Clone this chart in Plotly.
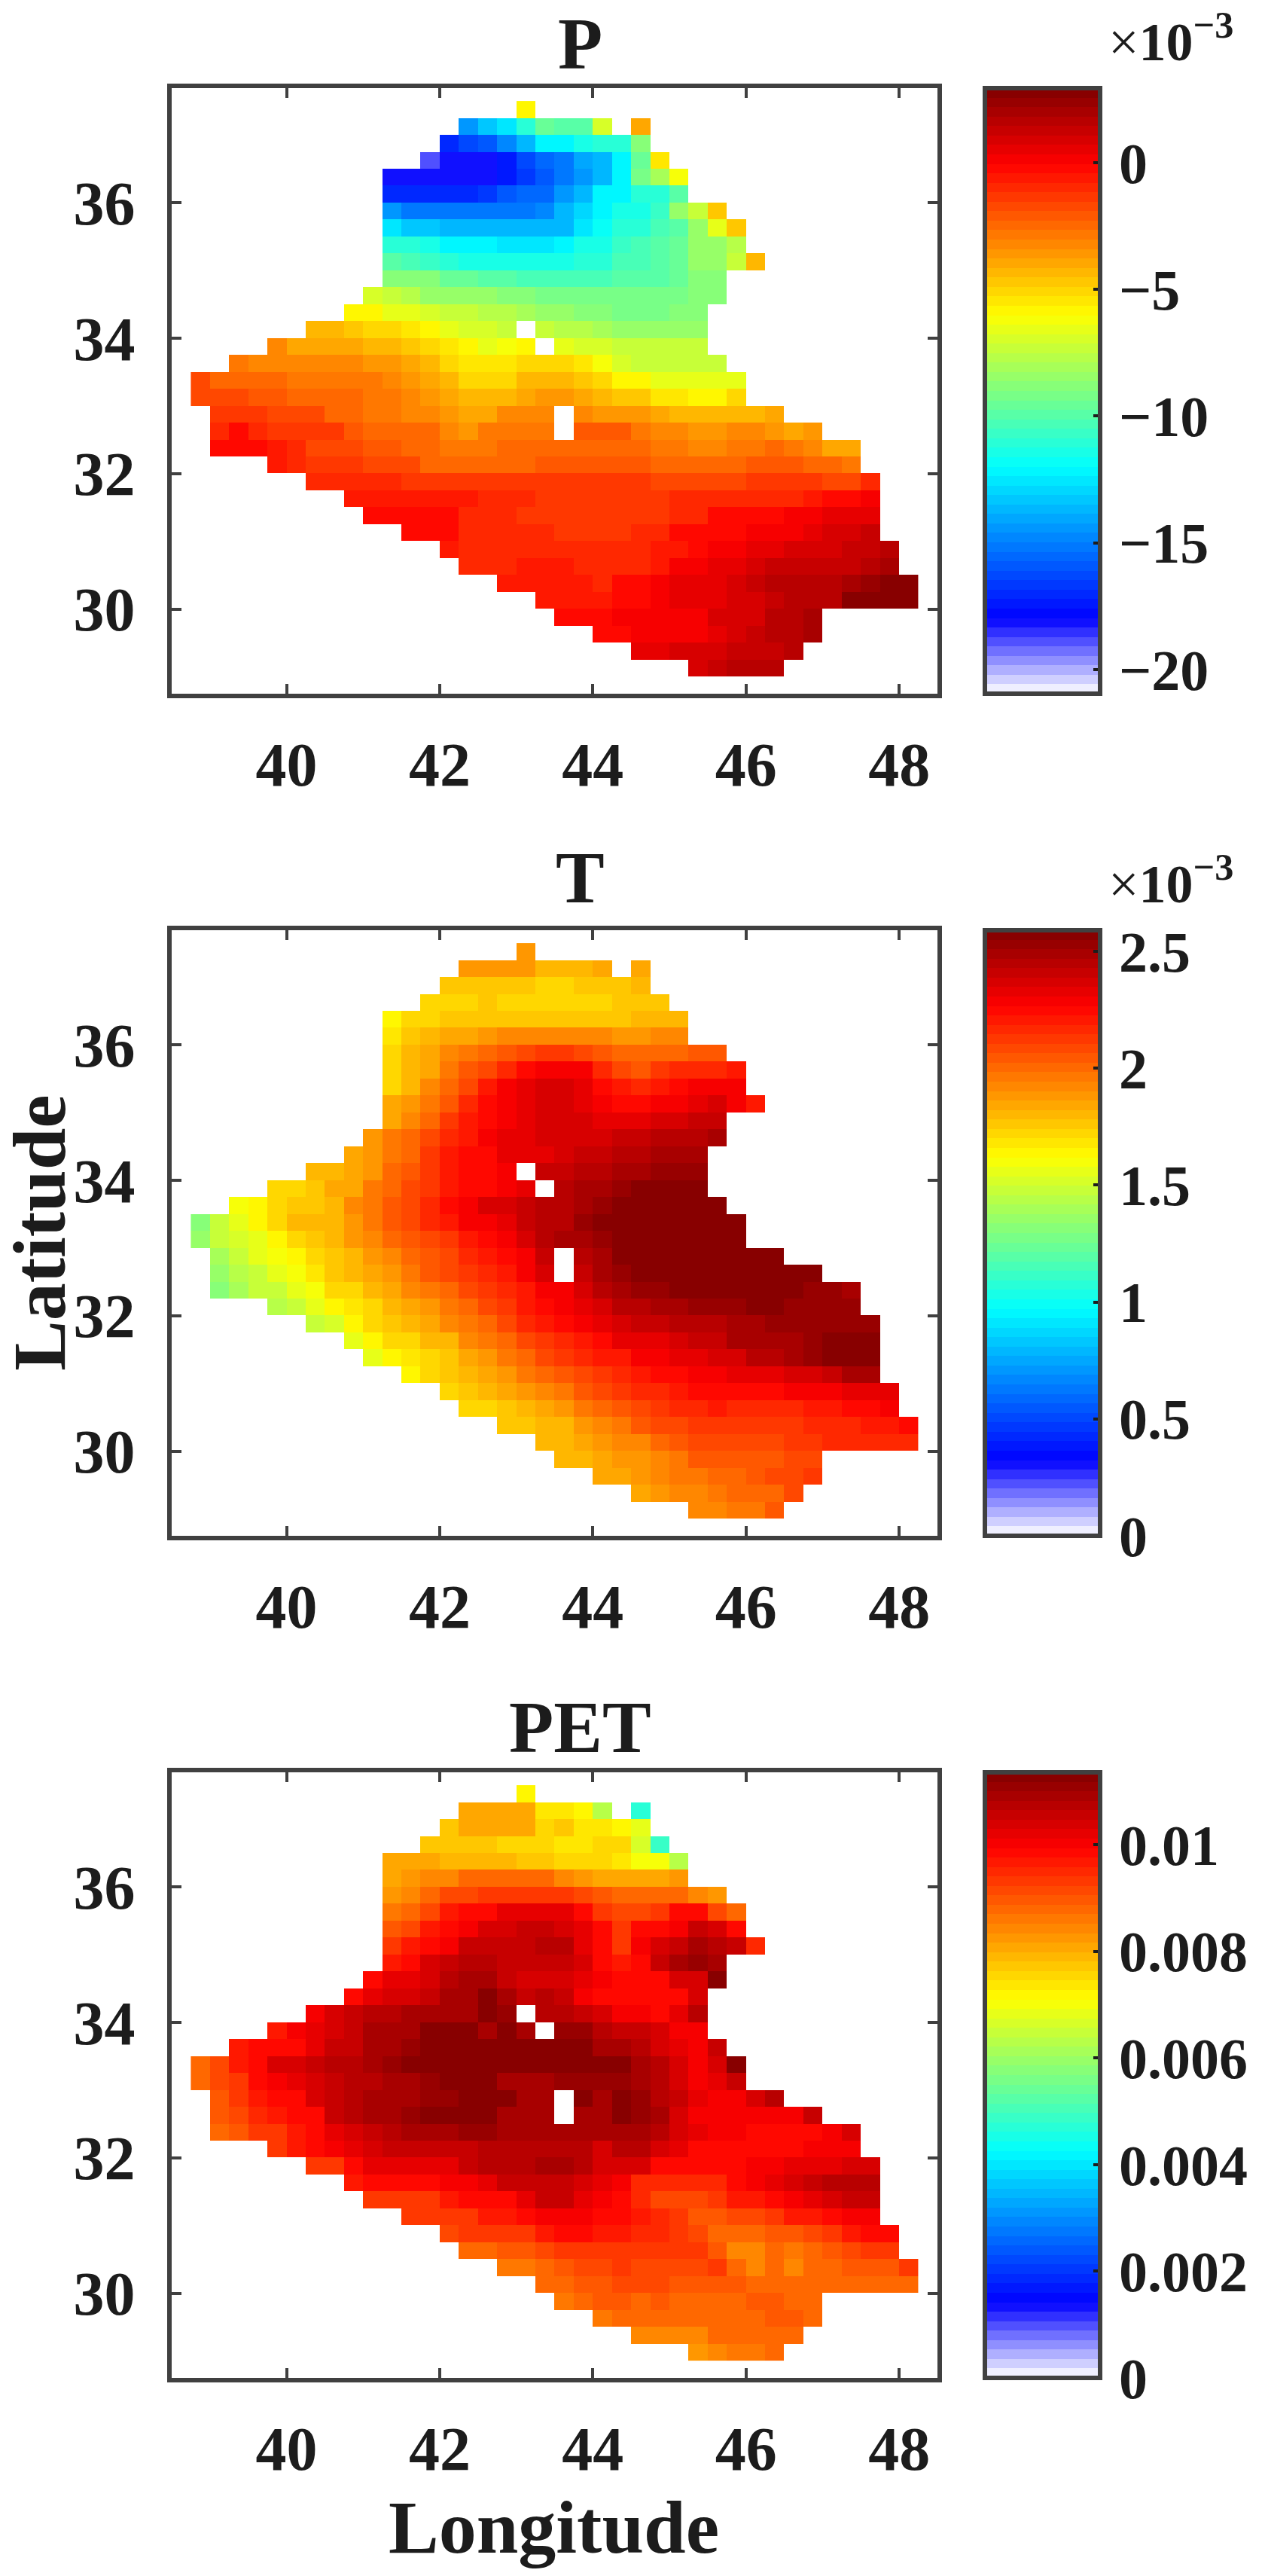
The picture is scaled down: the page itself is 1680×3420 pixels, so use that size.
import numpy as np
import plotly.graph_objects as go

n = None

LON = np.arange(38.875, 48.3, 0.25)
LAT = np.arange(37.375, 29.0, -0.25)

# all values in units of 1e-3, rows run north to south, columns west to east
P_VALUES = [
    [n]*17 + [-6.0],
    [n]*14 + [-14.4, -13.2, -12.5, -11, -9.5, -10, -10, -6.9, n, -3.9],
    [n]*13 + [-17.2, -16.4, -16, -14.7, -13.5, -12.3, -12, -11.6, -11.2, -11, -9],
    [n]*12 + [-18.8, -18.2, -18, -18, -17.5, -16.4, -15.7, -15, -14, -13.5, -12.3, -9.5, -5.4],
    [n]*10 + [-18, -18, -18, -18.3, -18, -18, -17.5, -16.6, -16, -15, -14.3, -13.5, -12.3, -9.3, -8, -6.1],
    [n]*10 + [-16.9, -17, -17, -17, -17, -16.7, -16, -15.7, -15.5, -14.5, -13.7, -12.3, -12, -11, -10.9, -10],
    [n]*10 + [-14.5, -15.2, -15.2, -15.2, -15.2, -15.2, -15.1, -15.1, -14.7, -13.8, -13, -12.1, -11.4, -11.4, -10.6, -8.5, -7.4, -4.8],
    [n]*10 + [-12.5, -13.2, -13.2, -13.7, -13.7, -13.7, -13.7, -13.7, -13.7, -13.6, -12.5, -11.7, -11.2, -11, -10.2, -9.8, -8.3, -6.7, -4.7],
    [n]*10 + [-11, -11.2, -11.6, -12, -12, -12, -12.5, -12.5, -12.5, -12, -11.6, -11.4, -10.7, -10.2, -9.8, -9.5, -8.6, -8.4, -7.6],
    [n]*10 + [-10, -10.4, -10.7, -11, -11.4, -11.4, -11.4, -11.4, -11.4, -11.6, -11.2, -11, -10.4, -10.2, -10, -9.5, -8.6, -8.4, -7.3, -4.4],
    [n]*10 + [-8.7, -8.7, -9, -9.5, -9.5, -10, -10, -10.2, -10.2, -10.2, -10.2, -10.2, -10, -10, -10, -9.5, -8.8, -8.8],
    [n]*9 + [-7.1, -7.5, -7.8, -8.3, -8.3, -8.3, -8.3, -8.7, -8.8, -9.2, -9.2, -9.2, -9.2, -9.2, -9.2, -9.2, -9.2, -8.7, -8.7],
    [n]*8 + [-5.7, -6, -6.4, -6.5, -6.9, -7.3, -7.3, -7.6, -7.8, -8, -8.3, -8.3, -8.7, -8.7, -9.2, -9.2, -9.2, -9, -9],
    [n]*6 + [-4.4, -4.4, -4.7, -5, -5, -5.4, -5.9, -6.5, -6.9, -6.9, -7.3, n, -7.4, -7.8, -7.8, -8.2, -8.4, -8.4, -8.4, -8.4, -8.4],
    [n]*4 + [-3.4, -3.9, -3.9, -3.9, -4.1, -4.5, -4.5, -4.8, -5.1, -5.6, -6, -6.4, -6.3, -5.9, n, -6.5, -6.8, -7.1, -7.5, -7.5, -7.5, -7.5, -7.5],
    [n]*2 + [-2.9, -3.1, -3.1, -3.1, -3.1, -3.4, -3.4, -3.7, -3.7, -3.9, -4.4, -5, -5.5, -5.5, -5.5, -5, -5, -5, -5.5, -6.3, -6.8, -7.2, -7.2, -7.2, -7.2, -7.2],
    [-1.9, -2.6, -2.6, -2.6, -2.6, -2.7, -2.7, -2.7, -2.9, -2.9, -3.4, -3.6, -4.1, -4.5, -4.9, -4.9, -4.9, -4.5, -4.5, -4.5, -4.8, -5.2, -5.7, -6, -6.4, -6.4, -6.4, -6.4, -6.4],
    [-1.7, -1.7, -1.7, -2, -2, -2.3, -2.3, -2.5, -2.5, -2.9, -2.9, -3.3, -3.7, -4.1, -4.4, -4.4, -4.4, -4, -3.5, -3.5, -3.8, -4.3, -4.7, -4.7, -5.3, -5.3, -5.8, -5.8, -5.1],
    [n] + [-1.4, -1.4, -1.4, -1.7, -1.7, -1.9, -2.4, -2.4, -2.7, -2.7, -3.2, -3.2, -3.6, -4, -4, -3.4, -3.3, -3.3, n, -3.2, -3.5, -3.5, -3.5, -4.1, -4.5, -4.5, -4.5, -4.5, -4.5, -4],
    [n] + [-0.9, -0.3, -0.8, -1.2, -1.2, -1.5, -1.5, -2, -2.4, -2.4, -2.6, -2.6, -3.1, -3.5, -3, -3, -3, -2.7, n, -2.2, -2.2, -2.2, -3, -3.2, -3.2, -3.7, -3.7, -3.4, -3.4, -3.6, -3.8, -3.7],
    [n] + [-0.2, -0.2, -0.2, -0.6, -0.9, -1.6, -1.6, -1.6, -2, -2, -2.5, -2.5, -2.9, -2.9, -2.9, -2.6, -2.6, -2.3, -2.3, -2.3, -2.3, -2.3, -2.3, -2.7, -2.7, -3.1, -3.1, -2.7, -2.7, -2.4, -2.8, -3.2, -3.8, -4],
    [n]*4 + [-0.6, -0.8, -1.4, -1.4, -1.4, -1.9, -1.9, -1.9, -2.4, -2.4, -2.4, -2.4, -2.4, -2.4, -2, -2, -2, -2, -2, -2, -2.5, -2.5, -2.5, -2.5, -2.5, -2.2, -2.2, -2.2, -2.5, -2.5, -2.9],
    [n]*6 + [-1, -1, -1, -1, -1, -1.4, -1.4, -1.4, -1.4, -1.4, -1.4, -1.4, -1.4, -1.4, -1.4, -1.4, -1.4, -1.4, -1.8, -1.8, -1.8, -1.6, -1.6, -1.3, -1.3, -1.3, -1.3, -1.6, -1.6, -0.9],
    [n]*8 + [-0.7, -0.7, -0.7, -0.7, -0.7, -0.7, -0.7, -1.1, -1.1, -1.1, -1.5, -1.5, -1.5, -1.5, -1.5, -1.5, -1.5, -1.1, -1.1, -1.1, -0.8, -0.8, -0.8, -0.8, -0.5, -0.1, -0.1, 0.3],
    [n]*9 + [-0.4, -0.4, -0.4, -0.4, -0.4, -0.8, -0.8, -0.8, -1.2, -1.2, -1.2, -1.2, -1.2, -1.2, -1.2, -1.2, -0.8, -0.8, -0.4, -0.4, -0.4, -0.4, 0, 0.3, 0.7, 0.7, 0.7],
    [n]*11 + [-0.4, -0.4, -0.4, -0.9, -0.9, -0.9, -0.9, -0.9, -1.2, -1.2, -1.2, -1.2, -0.9, -0.9, -0.4, -0.4, -0.1, -0.1, 0.2, 0.2, 0.2, 0.5, 0.9, 0.9, 1.2],
    [n]*13 + [-0.5, -0.9, -0.9, -0.9, -0.9, -1, -1, -1, -1, -1, -1, -0.6, -0.6, -0.2, 0.2, 0.2, 0.5, 0.5, 0.8, 0.8, 0.8, 1.2, 1.2, 1.6],
    [n]*14 + [-0.9, -0.9, -0.9, -0.6, -0.6, -0.6, -1, -1, -1, -1, -0.6, 0, 0.3, 0.6, 0.6, 1, 1.3, 1.3, 1.3, 1.3, 1.3, 1.6, 2],
    [n]*16 + [-0.6, -0.6, -0.6, -0.6, -0.6, -0.9, -0.3, -0.1, 0.3, 0.7, 0.7, 0.7, 1, 1.4, 1.6, 1.6, 1.6, 1.6, 2, 2.3, 2.7, 2.7],
    [n]*18 + [-0.5, -0.5, -0.5, -0.5, -0.3, -0.1, 0.1, 0.5, 0.7, 0.7, 1, 1, 1.4, 1.7, 1.7, 1.7, 2.6, 2.6, 2.8, 2.8],
    [n]*19 + [-0.4, -0.4, -0.4, 0, 0, 0.3, 0.3, 0.3, 0.8, 0.8, 1, 1.5, 1.5, 1.9],
    [n]*21 + [-0.1, -0.1, 0.3, 0.3, 0.3, 0.3, 0.7, 0.8, 1.1, 1.5, 1.8, 2],
    [n]*23 + [0.5, 0.5, 0.9, 0.9, 0.9, 1.2, 1.2, 1.4, 1.7],
    [n]*26 + [1, 1.2, 1.5, 1.5, 1.7],
]

T_VALUES = [
    [n]*17 + [1.89],
    [n]*14 + [1.88, 1.88, 1.88, 1.88, 1.82, 1.82, 1.82, 1.85, n, 1.85],
    [n]*13 + [1.75, 1.77, 1.77, 1.77, 1.77, 1.72, 1.72, 1.76, 1.76, 1.76, 1.81],
    [n]*12 + [1.72, 1.72, 1.72, 1.75, 1.71, 1.71, 1.71, 1.71, 1.71, 1.71, 1.75, 1.75, 1.75],
    [n]*10 + [1.65, 1.71, 1.71, 1.75, 1.75, 1.75, 1.75, 1.75, 1.75, 1.75, 1.75, 1.75, 1.75, 1.81, 1.81, 1.81],
    [n]*10 + [1.67, 1.75, 1.79, 1.83, 1.83, 1.87, 1.92, 1.92, 1.92, 1.92, 1.92, 1.92, 1.89, 1.89, 1.93, 1.93],
    [n]*10 + [1.71, 1.79, 1.84, 1.92, 1.97, 2.01, 2.05, 2.08, 2.12, 2.12, 2.08, 2.04, 2, 2, 2, 2, 2.04, 2.04],
    [n]*10 + [1.72, 1.81, 1.86, 1.98, 2.05, 2.09, 2.18, 2.23, 2.27, 2.27, 2.28, 2.18, 2.1, 2.05, 2.12, 2.16, 2.18, 2.18, 2.2],
    [n]*10 + [1.72, 1.82, 1.91, 2, 2.1, 2.19, 2.28, 2.32, 2.36, 2.36, 2.32, 2.26, 2.2, 2.15, 2.21, 2.26, 2.27, 2.27, 2.29],
    [n]*10 + [1.84, 1.89, 1.97, 2.05, 2.15, 2.25, 2.29, 2.32, 2.35, 2.35, 2.32, 2.28, 2.24, 2.24, 2.27, 2.3, 2.32, 2.35, 2.3, 2.22],
    [n]*10 + [1.86, 1.94, 2.02, 2.12, 2.2, 2.24, 2.28, 2.31, 2.35, 2.35, 2.35, 2.31, 2.31, 2.31, 2.36, 2.36, 2.39, 2.39],
    [n]*9 + [1.9, 1.95, 2.02, 2.1, 2.17, 2.22, 2.27, 2.31, 2.31, 2.35, 2.35, 2.35, 2.35, 2.4, 2.4, 2.44, 2.44, 2.45, 2.5],
    [n]*8 + [1.84, 1.9, 1.97, 2.02, 2.12, 2.2, 2.25, 2.25, 2.31, 2.31, 2.31, 2.35, 2.4, 2.4, 2.43, 2.43, 2.5, 2.5, 2.5],
    [n]*6 + [1.79, 1.79, 1.85, 1.9, 2, 2.05, 2.13, 2.2, 2.25, 2.25, 2.3, n, 2.4, 2.4, 2.44, 2.44, 2.47, 2.47, 2.53, 2.53, 2.53],
    [n]*4 + [1.7, 1.73, 1.77, 1.85, 1.85, 1.95, 2, 2.08, 2.13, 2.2, 2.26, 2.26, 2.29, 2.32, n, 2.44, 2.49, 2.49, 2.53, 2.57, 2.57, 2.57, 2.57],
    [n]*2 + [1.58, 1.62, 1.71, 1.77, 1.77, 1.82, 1.91, 1.97, 2.03, 2.09, 2.16, 2.24, 2.28, 2.38, 2.38, 2.39, 2.45, 2.45, 2.5, 2.52, 2.56, 2.59, 2.59, 2.57, 2.57, 2.59],
    [1.33, 1.48, 1.57, 1.62, 1.7, 1.79, 1.79, 1.82, 1.89, 1.98, 2.04, 2.1, 2.16, 2.22, 2.28, 2.27, 2.32, 2.4, 2.45, 2.45, 2.51, 2.57, 2.57, 2.59, 2.59, 2.59, 2.59, 2.59, 2.59],
    [1.35, 1.46, 1.52, 1.57, 1.64, 1.71, 1.77, 1.82, 1.87, 1.94, 1.99, 2.05, 2.09, 2.14, 2.21, 2.26, 2.28, 2.35, 2.44, 2.48, 2.48, 2.53, 2.57, 2.59, 2.59, 2.59, 2.59, 2.59, 2.59],
    [n] + [1.41, 1.47, 1.54, 1.6, 1.63, 1.71, 1.77, 1.82, 1.89, 1.94, 2, 2.05, 2.1, 2.16, 2.2, 2.25, 2.28, 2.4, n, 2.44, 2.5, 2.56, 2.55, 2.55, 2.59, 2.59, 2.59, 2.59, 2.59, 2.59],
    [n] + [1.35, 1.43, 1.49, 1.56, 1.58, 1.69, 1.76, 1.79, 1.85, 1.9, 1.98, 2.03, 2.09, 2.14, 2.17, 2.22, 2.28, 2.35, n, 2.42, 2.5, 2.53, 2.55, 2.55, 2.59, 2.59, 2.59, 2.59, 2.59, 2.59, 2.58, 2.58],
    [n] + [1.33, 1.41, 1.46, 1.49, 1.55, 1.6, 1.7, 1.74, 1.81, 1.86, 1.91, 1.97, 2.02, 2.07, 2.12, 2.18, 2.22, 2.27, 2.29, 2.35, 2.44, 2.48, 2.52, 2.52, 2.56, 2.56, 2.56, 2.56, 2.56, 2.56, 2.56, 2.52, 2.52, 2.5],
    [n]*4 + [1.43, 1.48, 1.57, 1.63, 1.66, 1.73, 1.81, 1.85, 1.9, 1.95, 2.02, 2.09, 2.14, 2.2, 2.24, 2.28, 2.32, 2.37, 2.44, 2.44, 2.48, 2.48, 2.52, 2.52, 2.52, 2.56, 2.56, 2.52, 2.52, 2.52, 2.52],
    [n]*6 + [1.47, 1.52, 1.63, 1.71, 1.75, 1.82, 1.85, 1.93, 1.97, 2.02, 2.09, 2.16, 2.2, 2.25, 2.28, 2.33, 2.37, 2.4, 2.4, 2.44, 2.44, 2.44, 2.48, 2.48, 2.53, 2.53, 2.53, 2.53, 2.53, 2.53],
    [n]*8 + [1.55, 1.63, 1.7, 1.74, 1.79, 1.82, 1.93, 1.97, 2, 2.08, 2.14, 2.17, 2.2, 2.24, 2.31, 2.33, 2.33, 2.37, 2.4, 2.4, 2.47, 2.47, 2.5, 2.5, 2.53, 2.58, 2.58, 2.56],
    [n]*9 + [1.57, 1.63, 1.66, 1.72, 1.77, 1.84, 1.9, 1.95, 2.02, 2.08, 2.13, 2.17, 2.2, 2.22, 2.28, 2.28, 2.32, 2.32, 2.37, 2.37, 2.43, 2.43, 2.47, 2.51, 2.55, 2.55, 2.55],
    [n]*11 + [1.63, 1.71, 1.75, 1.8, 1.84, 1.87, 1.95, 2, 2.04, 2.09, 2.14, 2.17, 2.2, 2.24, 2.24, 2.27, 2.27, 2.32, 2.32, 2.32, 2.36, 2.36, 2.41, 2.47, 2.47],
    [n]*13 + [1.71, 1.75, 1.79, 1.84, 1.89, 1.93, 1.95, 2.04, 2.09, 2.13, 2.17, 2.17, 2.21, 2.25, 2.25, 2.25, 2.25, 2.25, 2.27, 2.27, 2.27, 2.32, 2.32, 2.32],
    [n]*14 + [1.7, 1.7, 1.77, 1.82, 1.86, 1.9, 1.95, 1.99, 2.04, 2.09, 2.14, 2.18, 2.18, 2.22, 2.18, 2.18, 2.18, 2.18, 2.21, 2.21, 2.26, 2.26, 2.28],
    [n]*16 + [1.75, 1.75, 1.8, 1.82, 1.9, 1.94, 1.98, 2.03, 2.1, 2.1, 2.13, 2.13, 2.13, 2.13, 2.13, 2.13, 2.17, 2.17, 2.17, 2.2, 2.2, 2.24],
    [n]*18 + [1.79, 1.79, 1.85, 1.89, 1.94, 1.94, 1.99, 2.03, 2.07, 2.07, 2.07, 2.09, 2.09, 2.13, 2.13, 2.17, 2.17, 2.17, 2.17, 2.17],
    [n]*19 + [1.81, 1.81, 1.85, 1.9, 1.9, 1.94, 1.98, 2.03, 2.03, 2.03, 2.05, 2.05, 2.1, 2.1],
    [n]*21 + [1.84, 1.84, 1.87, 1.92, 1.95, 1.95, 1.99, 1.99, 2.03, 2.07, 2.07, 2.13],
    [n]*23 + [1.84, 1.87, 1.94, 1.94, 1.95, 1.99, 1.99, 2.02, 2.1],
    [n]*26 + [1.94, 1.94, 1.98, 1.98, 2.03],
]

PET_VALUES = [
    [n]*17 + [7.1],
    [n]*14 + [8.1, 8.1, 8.1, 8.1, 7.3, 7.3, 7.2, 6.3, n, 4.7],
    [n]*13 + [7.8, 8, 8, 8, 8, 7.6, 7.8, 7.3, 7.3, 7.1, 6.8],
    [n]*12 + [7.8, 7.8, 7.8, 7.8, 7.6, 7.5, 7.5, 7.3, 7.3, 7.5, 7.5, 6.7, 4.8],
    [n]*10 + [8, 8.1, 8.1, 7.9, 7.9, 7.9, 7.9, 7.8, 7.8, 7.6, 7.6, 7.6, 7.4, 7, 7, 6.3],
    [n]*10 + [8.1, 8.3, 8.5, 8.5, 8.8, 8.8, 8.8, 8.8, 8.8, 8.5, 8.3, 8.1, 8.1, 8.1, 8.1, 8.3],
    [n]*10 + [8.2, 8.5, 8.8, 9.1, 9.2, 9.4, 9.4, 9.4, 9.4, 9.4, 9.2, 9, 8.7, 8.7, 8.7, 8.7, 8.5, 8.2],
    [n]*10 + [8.6, 8.8, 9.2, 9.6, 9.8, 9.9, 10.2, 10.2, 10.2, 10.2, 9.8, 9.4, 9.2, 9.2, 9.4, 9.8, 9.9, 9.2, 8.7],
    [n]*10 + [9, 9.2, 9.6, 9.9, 10.1, 10.4, 10.3, 10.5, 10.5, 10.4, 10.2, 9.9, 9.4, 9.8, 9.8, 10.1, 10.6, 10.4, 9.9],
    [n]*10 + [9.4, 9.7, 9.9, 10.1, 10.5, 10.5, 10.5, 10.5, 10.7, 10.7, 10.2, 9.8, 9.3, 10, 10.4, 10.5, 10.9, 10.7, 10.6, 9.5],
    [n]*10 + [9.7, 9.9, 10.3, 10.5, 10.7, 10.7, 10.5, 10.5, 10.5, 10.5, 10.3, 9.9, 9.6, 9.8, 10.5, 10.9, 11.1, 11],
    [n]*9 + [9.9, 10.2, 10.2, 10.4, 10.7, 11, 11, 10.6, 10.4, 10.4, 10.4, 10.2, 10, 9.8, 9.9, 9.9, 10.4, 10.4, 11.36],
    [n]*8 + [9.9, 10.2, 10.4, 10.4, 10.6, 10.9, 10.9, 11.2, 10.9, 10.5, 10.7, 10.5, 10.1, 9.9, 9.9, 9.9, 9.9, 9.9, 10.3],
    [n]*6 + [10.1, 10.3, 10.6, 10.8, 10.8, 11, 11, 11, 11, 11.2, 11.1, n, 10.7, 10.7, 10.5, 10.3, 10.1, 10.1, 9.9, 10.2, 10.7],
    [n]*4 + [9.6, 10, 10.2, 10.4, 10.6, 10.9, 11, 10.9, 11.2, 11.2, 11.2, 11, 11.2, 11, n, 11.1, 11.1, 10.7, 10.5, 10.5, 10.4, 10, 10],
    [n]*2 + [9.6, 9.8, 9.9, 9.9, 10.2, 10.5, 10.6, 11, 11, 11.1, 11.36, 11.36, 11.36, 11.2, 11.2, 11.2, 11.2, 11.2, 11.2, 11, 11, 10.8, 10.4, 10.2, 10, 10.6],
    [8.7, 9.2, 9.6, 9.8, 10.3, 10.3, 10.5, 10.7, 10.7, 11, 11.1, 11.2, 11.36, 11.36, 11.36, 11.2, 11.2, 11.2, 11.2, 11.3, 11.2, 11.2, 11.2, 11, 10.8, 10.4, 10, 10.4, 11.2],
    [8.7, 9.1, 9.4, 9.8, 10, 10.2, 10.4, 10.6, 10.8, 10.8, 11, 11, 11.1, 11.3, 11.3, 11.2, 11, 11, 11, 11.1, 11.1, 11.1, 11.1, 11, 10.8, 10.4, 10, 10.2, 10.6],
    [n] + [9, 9.3, 9.7, 9.8, 9.9, 10.3, 10.5, 10.8, 11, 11, 11, 11.1, 11.1, 11.3, 11.2, 11.3, 11, 11, n, 11.2, 11, 11.3, 11.1, 10.8, 10.5, 10.2, 10, 10, 10.3, 10.7],
    [n] + [9, 9.2, 9.5, 9.7, 9.8, 9.9, 10.5, 10.7, 10.9, 11, 11.1, 11.2, 11.3, 11.3, 11.3, 11, 11, 11, n, 11, 11, 11.3, 11.1, 10.9, 10.4, 10.1, 10.1, 10.1, 10.1, 10.1, 10.1, 10.5],
    [n] + [8.8, 8.9, 9.3, 9.3, 9.6, 9.9, 10.2, 10.4, 10.6, 10.7, 10.9, 10.9, 10.9, 11.1, 11.1, 10.9, 10.9, 10.9, 10.9, 10.9, 10.9, 10.9, 10.9, 10.7, 10.4, 10.2, 10, 10, 9.9, 9.9, 9.8, 9.8, 10.1, 10.3],
    [n]*4 + [9.4, 9.6, 9.8, 10, 10.2, 10.4, 10.5, 10.5, 10.5, 10.5, 10.5, 10.8, 10.8, 10.8, 10.8, 10.8, 10.8, 10.4, 10.7, 10.7, 10.4, 10.2, 9.9, 9.9, 9.9, 9.9, 9.9, 9.9, 10, 10, 10.1],
    [n]*6 + [9.4, 9.4, 9.9, 10.2, 10.2, 10.2, 10.2, 10.2, 10.5, 10.7, 10.7, 10.7, 10.9, 10.9, 10.7, 10.3, 10.3, 10.3, 9.9, 9.9, 9.9, 9.9, 9.9, 10, 10, 10.2, 10.2, 10.2, 10.4, 10.3],
    [n]*8 + [9.6, 9.8, 9.8, 9.8, 9.8, 10, 10, 10.2, 10.5, 10.6, 10.6, 10.6, 10.4, 10.2, 10, 9.5, 9.5, 9.5, 9.5, 9.5, 9.8, 10, 10.2, 10.3, 10.5, 10.7, 10.8, 10.7],
    [n]*9 + [9.4, 9.4, 9.4, 9.4, 9.6, 9.8, 9.9, 9.9, 10.2, 10.5, 10.5, 10.2, 10, 9.8, 9.5, 9.2, 9.2, 9.2, 9.4, 9.6, 9.6, 9.8, 10, 10.2, 10.4, 10.6, 10.6],
    [n]*11 + [9.3, 9.3, 9.3, 9.4, 9.6, 9.6, 9.8, 10, 10, 10, 9.9, 9.9, 9.6, 9.5, 9.3, 9, 9, 9.2, 9.2, 9.3, 9.6, 9.7, 9.9, 10.1, 10.1],
    [n]*13 + [9.1, 9.3, 9.3, 9.3, 9.4, 9.6, 9.8, 9.8, 9.6, 9.6, 9.5, 9.5, 9.3, 9.1, 8.8, 8.8, 8.8, 8.9, 8.9, 9.2, 9.4, 9.6, 9.8, 9.8],
    [n]*14 + [8.8, 8.8, 9, 9, 9.2, 9.4, 9.4, 9.4, 9.4, 9.4, 9.4, 9.3, 9.3, 9, 8.5, 8.5, 8.8, 8.6, 8.8, 8.9, 9.2, 9.4, 9.4],
    [n]*16 + [8.6, 8.6, 8.8, 9, 9.2, 9.2, 9.4, 9.1, 9.1, 9.1, 9.1, 9.3, 8.7, 8.5, 8.7, 8.5, 8.8, 8.8, 9, 9, 9, 9.3],
    [n]*18 + [8.7, 8.8, 9, 9, 9.2, 9.2, 9.2, 9, 9, 9, 9, 8.8, 8.8, 8.8, 8.8, 8.8, 8.8, 8.8, 8.8, 8.8],
    [n]*19 + [8.6, 8.8, 8.9, 8.9, 8.7, 8.9, 8.7, 8.7, 8.7, 8.7, 8.9, 8.9, 8.7, 8.7],
    [n]*21 + [8.6, 8.8, 8.7, 8.7, 8.7, 8.7, 8.7, 8.7, 8.8, 9, 9, 8.8],
    [n]*23 + [8.5, 8.5, 8.5, 8.5, 8.7, 8.7, 8.8, 8.8, 8.8],
    [n]*26 + [8.3, 8.4, 8.6, 8.6, 8.8],
]

P_TICKS = [-20, -15, -10, -5, 0]
P_LABELS = ["\u221220", "\u221215", "\u221210", "\u22125", "0"]
T_TICKS = [0, 0.5, 1, 1.5, 2, 2.5]
T_LABELS = ["0", "0.5", "1", "1.5", "2", "2.5"]
PET_TICKS = [0, 2, 4, 6, 8, 10]
PET_LABELS = ["0", "0.002", "0.004", "0.006", "0.008", "0.01"]

W, H = 1680, 3420
FONT = "Liberation Serif"
DARK = "#404040"
INK = "#1c1c1c"

# (name, values, zmin, zmax, ticks, labels, frame top px, frame bottom px, title baseline px)
PANELS = [
    ("P", P_VALUES, -20.95, 2.94, P_TICKS, P_LABELS, 117, 921, 90),
    ("T", T_VALUES, 0, 2.59, T_TICKS, T_LABELS, 1235, 2039, 1197),
    ("PET", PET_VALUES, 0, 11.36, PET_TICKS, PET_LABELS, 2353, 3157, 2325),
]


def jet_white(levels=64):
    # MATLAB jet, with the dark blue end fading out to white, in steps
    anchors = [(0, (255, 255, 255)), (0.125, (0, 0, 255)), (0.375, (0, 255, 255)),
               (0.625, (255, 255, 0)), (0.875, (255, 0, 0)), (1, (128, 0, 0))]
    xs = [a[0] for a in anchors]
    scale = []
    for i in range(levels):
        t = (i + 0.5) / levels
        c = [int(round(np.interp(t, xs, [a[1][k] for a in anchors]))) for k in range(3)]
        col = f"rgb({c[0]},{c[1]},{c[2]})"
        scale.append([i / levels, col])
        scale.append([(i + 1) / levels, col])
    return scale


def pad(rows):
    return [row + [None] * (len(LON) - len(row)) for row in rows]


fig = go.Figure()
annotations = []
X0, X1 = 228, 1245

for i, (name, values, zmin, zmax, ticks, labels, top, bottom, base) in enumerate(PANELS):
    ax = "" if i == 0 else str(i + 1)
    fig.add_trace(go.Heatmap(
        x=LON, y=LAT, z=pad(values), zmin=zmin, zmax=zmax,
        colorscale=jet_white(), hoverongaps=False,
        xaxis="x" + ax, yaxis="y" + ax,
        colorbar=dict(
            x=1308 / W, xanchor="left", xpad=0, thickness=153,
            y=1 - top / H, yanchor="top", ypad=0,
            lenmode="pixels", len=bottom - top,
            outlinecolor=DARK, outlinewidth=6,
            tickmode="array", tickvals=ticks, ticktext=["\u200a" + t for t in labels],
            ticks="inside", ticklen=12, tickwidth=4, tickcolor=INK,
            tickfont=dict(family=FONT, size=76, color=INK, weight="bold"),
        ),
    ))
    common = dict(showline=True, linecolor=DARK, linewidth=6, mirror="ticks",
                  ticks="inside", ticklen=13, tickwidth=4, tickcolor=DARK,
                  showgrid=False, zeroline=False,
                  tickfont=dict(family=FONT, size=82, color=INK, weight="bold"))
    fig.update_layout({
        "xaxis" + ax: dict(domain=[X0 / W, X1 / W], range=[38.5, 48.5], anchor="y" + ax,
                           tickvals=[40, 42, 44, 46, 48], ticklabelstandoff=18, **common),
        "yaxis" + ax: dict(domain=[1 - bottom / H, 1 - top / H], range=[28.75, 37.69], anchor="x" + ax,
                           tickvals=[30, 32, 34, 36], ticklabelstandoff=26, **common),
    })
    annotations.append(dict(text=f"<b>{name}</b>", xref="paper", yref="paper",
                            x=770 / W, y=1 - (base + 24) / H, xanchor="center", yanchor="bottom",
                            showarrow=False, font=dict(family=FONT, size=97, color=INK)))

for base in (80, 1198):
    annotations.append(dict(text="\u00d7<b>10<sup>\u22123</sup></b>", xref="paper", yref="paper",
                            x=1470 / W, y=1 - (base + 18) / H, xanchor="left", yanchor="bottom",
                            showarrow=False, font=dict(family=FONT, size=72, color=INK)))

annotations.append(dict(text="<b>Latitude</b>", xref="paper", yref="paper", x=52 / W, y=1 - 1637 / H,
                        xanchor="center", yanchor="middle", textangle=-90, showarrow=False,
                        font=dict(family=FONT, size=100, color=INK)))
annotations.append(dict(text="<b>Longitude</b>", xref="paper", yref="paper", x=735 / W, y=1 - 3355 / H,
                        xanchor="center", yanchor="middle", showarrow=False,
                        font=dict(family=FONT, size=100, color=INK)))

fig.update_layout(
    width=W, height=H,
    margin=dict(l=0, r=0, t=0, b=0, autoexpand=False),
    paper_bgcolor="white", plot_bgcolor="white",
    annotations=annotations,
)

fig.write_html("out.html", config={"displayModeBar": False},
               post_script="document.body.style.margin='0';")
